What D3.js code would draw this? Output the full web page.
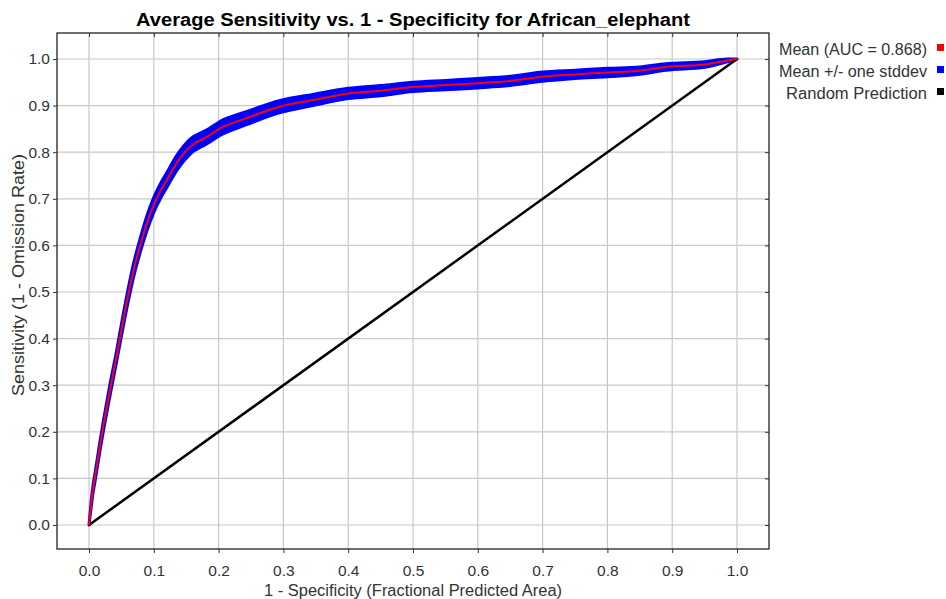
<!DOCTYPE html>
<html>
<head>
<meta charset="utf-8">
<script src="https://cdn.jsdelivr.net/npm/d3@7"></script>
<style>
  body { margin: 0; background: #fff; }
  svg text { font-family: "Liberation Sans", Arial, sans-serif; }
</style>
</head>
<body>
<script>
// values
var fpa      = [0, 0.003, 0.006, 0.009, 0.017, 0.022, 0.031, 0.043, 0.050, 0.060, 0.069, 0.079, 0.089, 0.100, 0.110, 0.120, 0.135, 0.156, 0.182, 0.202, 0.243, 0.295, 0.346, 0.40, 0.45, 0.50, 0.55, 0.60, 0.65, 0.70, 0.75, 0.80, 0.85, 0.89, 0.95, 0.985, 1.0];
var meanSens = [0, 0.04, 0.075, 0.10, 0.170, 0.211, 0.280, 0.365, 0.418, 0.490, 0.548, 0.600, 0.646, 0.687, 0.716, 0.740, 0.776, 0.812, 0.833, 0.851, 0.873, 0.898, 0.912, 0.926, 0.932, 0.940, 0.944, 0.948, 0.953, 0.962, 0.967, 0.971, 0.975, 0.983, 0.988, 0.997, 1.0];
var stdSens  = [0, 0.006, 0.008, 0.009, 0.010, 0.011, 0.012, 0.012, 0.013, 0.014, 0.015, 0.015, 0.016, 0.016, 0.016, 0.016, 0.016, 0.016, 0.015, 0.015, 0.014, 0.013, 0.012, 0.011, 0.011, 0.010, 0.010, 0.010, 0.010, 0.010, 0.009, 0.009, 0.008, 0.007, 0.006, 0.003, 0];
var ticks = [0, 0.1, 0.2, 0.3, 0.4, 0.5, 0.6, 0.7, 0.8, 0.9, 1.0];
var legendNames = ["Mean (AUC = 0.868)", "Mean +/- one stddev", "Random Prediction"];
var legendColors = ["#ff0000", "#0000ff", "#000000"];
var legendWidths = [148, 148, 141];

var width = 946, height = 599;
var frame = {left: 57, top: 33, right: 769, bottom: 549};

var svg = d3.select("body").append("svg")
    .attr("width", width)
    .attr("height", height);

var x = d3.scaleLinear().domain([0, 1]).range([89, 737]);
var y = d3.scaleLinear().domain([0, 1]).range([525, 59]);

// grid
var g = svg.append("g");
g.selectAll(".vg").data(ticks).enter().append("line")
    .attr("x1", d => x(d)).attr("x2", d => x(d))
    .attr("y1", frame.top).attr("y2", frame.bottom)
    .attr("stroke", "#c8c8c8").attr("stroke-width", 1.2);
g.selectAll(".hg").data(ticks).enter().append("line")
    .attr("y1", d => y(d)).attr("y2", d => y(d))
    .attr("x1", frame.left).attr("x2", frame.right)
    .attr("stroke", "#c8c8c8").attr("stroke-width", 1.2);

var pts = fpa.map((f, i) => ({x: f, m: meanSens[i], s: stdSens[i]}));

// stddev band
var band = d3.area()
    .x(d => x(d.x))
    .y0(d => y(d.m - d.s))
    .y1(d => y(Math.min(1, d.m + d.s)))
    .curve(d3.curveMonotoneX);
svg.append("path")
    .datum(pts)
    .attr("d", band)
    .attr("fill", "#0000ff")
    .attr("stroke", "#0000ff")
    .attr("stroke-width", 3)
    .attr("stroke-linejoin", "round");

// random prediction
svg.append("line")
    .attr("x1", x(0)).attr("y1", y(0))
    .attr("x2", x(1)).attr("y2", y(1))
    .attr("stroke", "#000").attr("stroke-width", 2.5);

// mean
var line = d3.line()
    .x(d => x(d.x))
    .y(d => y(d.m))
    .curve(d3.curveMonotoneX);
svg.append("path")
    .datum(pts)
    .attr("d", line)
    .attr("fill", "none")
    .attr("stroke", "#ff0000")
    .attr("stroke-width", 2);

// frame
svg.append("rect")
    .attr("x", frame.left).attr("y", frame.top)
    .attr("width", frame.right - frame.left)
    .attr("height", frame.bottom - frame.top)
    .attr("fill", "none").attr("stroke", "#222").attr("stroke-width", 1.3);

// axes
var fmt = d3.format(".1f");
var xAxis = svg.append("g")
    .attr("transform", "translate(0," + frame.bottom + ")")
    .call(d3.axisBottom(x).tickValues(ticks).tickFormat(fmt).tickSizeInner(4).tickSizeOuter(0).tickPadding(12));
var yAxis = svg.append("g")
    .attr("transform", "translate(" + frame.left + ",0)")
    .call(d3.axisLeft(y).tickValues(ticks).tickFormat(fmt).tickSizeInner(4).tickSizeOuter(0).tickPadding(3));
var topAxis = svg.append("g")
    .attr("transform", "translate(0," + frame.top + ")")
    .call(d3.axisBottom(x).tickValues(ticks).tickFormat("").tickSizeInner(4).tickSizeOuter(0));
var rightAxis = svg.append("g")
    .attr("transform", "translate(" + frame.right + ",0)")
    .call(d3.axisLeft(y).tickValues(ticks).tickFormat("").tickSizeInner(4).tickSizeOuter(0));
[xAxis, yAxis, topAxis, rightAxis].forEach(a => {
    a.select(".domain").remove();
    a.selectAll("line").attr("stroke", "#333");
    a.selectAll("text").attr("font-size", 15.5).attr("fill", "#333");
});

// titles
svg.append("text")
    .attr("x", (frame.left + frame.right) / 2).attr("y", 26)
    .attr("text-anchor", "middle")
    .attr("font-size", 17.5).attr("font-weight", "bold")
    .attr("textLength", 554).attr("lengthAdjust", "spacingAndGlyphs")
    .text("Average Sensitivity vs. 1 - Specificity for African_elephant");
svg.append("text")
    .attr("x", (frame.left + frame.right) / 2).attr("y", 596)
    .attr("text-anchor", "middle")
    .attr("font-size", 16).attr("fill", "#333")
    .attr("textLength", 298).attr("lengthAdjust", "spacingAndGlyphs")
    .text("1 - Specificity (Fractional Predicted Area)");
svg.append("text")
    .attr("transform", "translate(24,275) rotate(-90)")
    .attr("text-anchor", "middle")
    .attr("font-size", 16).attr("fill", "#333")
    .attr("textLength", 242).attr("lengthAdjust", "spacingAndGlyphs")
    .text("Sensitivity (1 - Omission Rate)");

// legend
var leg = svg.selectAll(".leg").data(legendNames).enter().append("g")
    .attr("transform", (d, i) => "translate(0," + (55 + i * 22) + ")");
leg.append("text")
    .attr("x", 927).attr("y", 0)
    .attr("text-anchor", "end")
    .attr("font-size", 16).attr("fill", "#333")
    .attr("textLength", (d, i) => legendWidths[i]).attr("lengthAdjust", "spacingAndGlyphs")
    .text(d => d);
leg.append("rect")
    .attr("x", 937).attr("y", -11)
    .attr("width", 7).attr("height", 7)
    .attr("fill", (d, i) => legendColors[i]);
</script>
</body>
</html>
